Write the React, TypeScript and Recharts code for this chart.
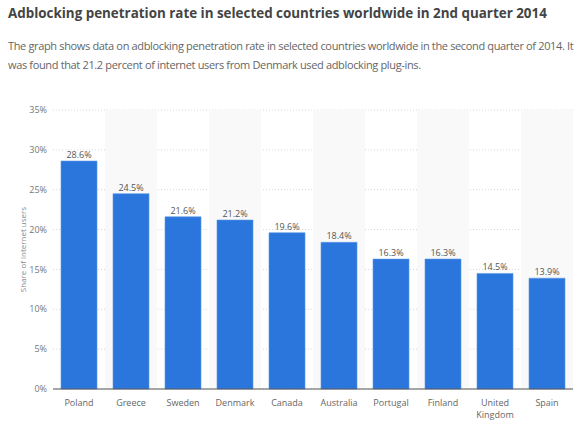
import React from 'react';
import {
    BarChart, Bar, XAxis, YAxis, CartesianGrid, ReferenceArea, LabelList,
} from 'recharts';

const countries = ['Poland', 'Greece', 'Sweden', 'Denmark', 'Canada', 'Australia', 'Portugal', 'Finland', 'United Kingdom', 'Spain'];
const shares = [28.6, 24.5, 21.6, 21.2, 19.6, 18.4, 16.3, 16.3, 14.5, 13.9];
const yTicks = [0, 5, 10, 15, 20, 25, 30, 35];

const data = countries.map((name, i) => ({ name, value: shares[i] }));
// every second category gets a light band behind it
const shaded = countries.filter((_, i) => i % 2 === 1);

const FONT = '"Open Sans", sans-serif';

const CountryTick = (props: any) => {
    const { x, y, payload } = props;
    const label: string = payload.value;
    const lines = label.length > 10 ? label.split(' ') : [label];
    return (
        <g>
            {lines.map((l, i) => (
                <text key={i} x={x} y={y + 6.5 + i * 12} textAnchor="middle" fill="#666" fontSize={9} fontFamily={FONT}>{l}</text>
            ))}
        </g>
    );
};

export default function App() {
    return (
        <div style={{ position: 'absolute', left: 0, top: 0, width: 584, height: 421, background: '#fff', fontFamily: FONT }}>
            <div style={{ position: 'absolute', left: 8, top: 4, fontSize: 13.4, fontWeight: 700, color: '#444', whiteSpace: 'nowrap' }}>
                Adblocking penetration rate in selected countries worldwide in 2nd quarter 2014
            </div>
            <div style={{ position: 'absolute', left: 8, top: 36, width: 572, fontSize: 11, letterSpacing: '-0.35px', lineHeight: '19px', color: '#666' }}>
                The graph shows data on adblocking penetration rate in selected countries worldwide in the second quarter of 2014. It was found that 21.2 percent of internet users from Denmark used adblocking plug-ins.
            </div>
            <div style={{ position: 'absolute', left: 0, top: 95 }}>
                <BarChart width={584} height={326} data={data} margin={{ top: 15, right: 11, bottom: 0, left: 0 }} barSize={36}>
                    {shaded.map((c) => (
                        <ReferenceArea key={c} x1={c} x2={c} y1={0} y2={35} fill="#f9f9f9" fillOpacity={1} stroke="none" ifOverflow="extendDomain" />
                    ))}
                    <CartesianGrid vertical={false} stroke="#d8d8d8" strokeDasharray="1 2" />
                    <XAxis dataKey="name" interval={0} tickLine={false} axisLine={{ stroke: '#555', strokeWidth: 1.2 }} tick={<CountryTick />} tickMargin={4} height={32} />
                    <YAxis domain={[0, 35]} ticks={yTicks} tickFormatter={(v) => `${v}%`} axisLine={false} tickLine={false} width={53}
                        tick={{ fontSize: 9, fill: '#777', fontFamily: FONT }} tickMargin={0}
                        label={{ value: 'Share of internet users', angle: -90, position: 'insideLeft', offset: 23, style: { fontSize: 8, fill: '#888', fontFamily: FONT, textAnchor: 'middle' } }} />
                    <Bar dataKey="value" fill="#2a76dd" stroke="#5b97e8" strokeWidth={0.6} isAnimationActive={false}>
                        <LabelList dataKey="value" position="top" offset={3} formatter={(v: any) => `${v}%`} style={{ fontSize: 9, fill: '#555', fontFamily: FONT }} />
                    </Bar>
                </BarChart>
            </div>
        </div>
    );
}
